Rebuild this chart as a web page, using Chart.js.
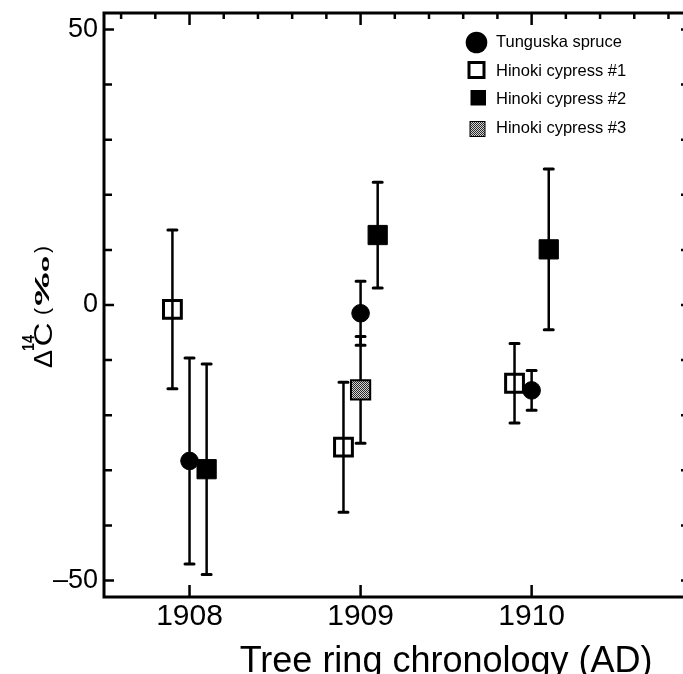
<!DOCTYPE html>
<html><head><meta charset="utf-8">
<script src="https://cdn.jsdelivr.net/npm/chart.js@4.4.0/dist/chart.umd.min.js"></script>
<style>
html,body{margin:0;padding:0;overflow:hidden;background:#fff;}
#wrap{position:relative;width:695px;height:674px;}
</style></head><body>
<div id="wrap"><canvas id="c" width="695" height="674" style="width:695px;height:674px"></canvas></div>
<script>
// ---- data ----
const seriesNames = ['Tunguska spruce','Hinoki cypress #1','Hinoki cypress #2','Hinoki cypress #3'];
const tunguskaX   = [1908.0, 1909.0, 1910.0];
const tunguskaY   = [-28.3, -1.5, -15.5];
const tunguskaErr = [18.7, 5.8, 3.6];
const hinoki1X    = [1907.9, 1908.9, 1909.9];
const hinoki1Y    = [-0.8, -25.8, -14.2];
const hinoki1Err  = [14.4, 11.8, 7.2];
const hinoki2X    = [1908.1, 1909.1, 1910.1];
const hinoki2Y    = [-29.8, 12.7, 10.1];
const hinoki2Err  = [19.1, 9.6, 14.6];
const hinoki3X    = [1909.0];
const hinoki3Y    = [-15.4];
const hinoki3Err  = [9.7];
// ---- ticks ----
const xMajorTicks = [1908, 1909, 1910];
const xMinorTicks = [1907.6,1907.8,1908.0,1908.2,1908.4,1908.6,1908.8,1909.0,1909.2,1909.4,1909.6,1909.8,1910.0,1910.2,1910.4,1910.6,1910.8];
const yMajorTicks = [-50, 0, 50];
const yMinorTicks = [-50,-40,-30,-20,-10,0,10,20,30,40,50];
const xTitle = 'Tree ring chronology (AD)';

const FONT = "'Liberation Sans', Arial, Helvetica, sans-serif";

function makePattern(){
  const c=document.createElement('canvas'); c.width=2; c.height=2;
  const g=c.getContext('2d');
  g.fillStyle='#d4d4d4'; g.fillRect(0,0,2,2);
  g.fillStyle='#2a2a2a'; g.fillRect(0,0,1,1); g.fillRect(1,1,1,1);
  return g.createPattern(c,'repeat');
}
const hatch = makePattern();

function pts(xs, ys){ return xs.map((x,i)=>({x:x, y:ys[i]})); }
function zeroPad(s){ s.paddingTop=0; s.paddingBottom=0; s.paddingLeft=0; s.paddingRight=0; }

const errorBars = {
  id:'errorBars',
  beforeDatasetsDraw(chart){
    const ctx=chart.ctx, ys=chart.scales.y;
    ctx.save();
    ctx.strokeStyle='#000';
    chart.data.datasets.forEach((ds,i)=>{
      const meta=chart.getDatasetMeta(i);
      ds.data.forEach((p,j)=>{
        const e=ds.errors[j];
        const px=meta.data[j].x;
        const yt=ys.getPixelForValue(p.y+e), yb=ys.getPixelForValue(p.y-e);
        ctx.lineWidth=2.5; ctx.lineCap='butt';
        ctx.beginPath(); ctx.moveTo(px,yt); ctx.lineTo(px,yb); ctx.stroke();
        ctx.lineWidth=3; ctx.lineCap='round';
        ctx.beginPath(); ctx.moveTo(px-4.5,yt); ctx.lineTo(px+4.5,yt);
        ctx.moveTo(px-4.5,yb); ctx.lineTo(px+4.5,yb); ctx.stroke();
      });
    });
    ctx.restore();
  }
};

const frame = {
  id:'frame',
  afterDraw(chart){
    const ctx=chart.ctx, a=chart.chartArea, xs=chart.scales.x, ys=chart.scales.y;
    ctx.save();
    ctx.strokeStyle='#000'; ctx.lineWidth=3; ctx.lineCap='square';
    ctx.strokeRect(a.left,a.top,a.right-a.left,a.bottom-a.top);
    ctx.lineWidth=2.5; ctx.lineCap='butt';
    ctx.beginPath();
    yMinorTicks.forEach(v=>{
      const y=ys.getPixelForValue(v);
      const L = yMajorTicks.includes(v)?10:8;
      ctx.moveTo(a.left,y); ctx.lineTo(a.left+L,y);
      ctx.moveTo(a.right,y); ctx.lineTo(a.right-8,y);
    });
    xMinorTicks.forEach(v=>{
      const x=xs.getPixelForValue(v);
      const maj = xMajorTicks.some(m=>Math.abs(m-v)<1e-6);
      ctx.moveTo(x,a.top); ctx.lineTo(x,a.top+(maj?12:6));
    });
    xMajorTicks.forEach(v=>{
      const x=xs.getPixelForValue(v);
      ctx.moveTo(x,a.bottom); ctx.lineTo(x,a.bottom-12);
    });
    ctx.stroke();

    // x-axis title
    ctx.fillStyle='#000';
    ctx.font='36px '+FONT;
    ctx.textAlign='center'; ctx.textBaseline='alphabetic';
    ctx.fillText(xTitle, xs.getPixelForValue((xMajorTicks[1]+xMajorTicks[2])/2), 672);

    // y-axis title, drawn piece by piece rotated
    function piece(text, font, yStart, len, baseX){
      ctx.save();
      ctx.font=font;
      const w=ctx.measureText(text).width;
      ctx.translate(baseX, yStart);
      ctx.rotate(-Math.PI/2);
      ctx.scale(len/w,1);
      ctx.textAlign='left'; ctx.textBaseline='alphabetic';
      ctx.fillText(text,0,0);
      ctx.restore();
    }
    piece('Δ', '25px '+FONT, 368, 18, 51.5);
    piece('14', 'bold 16px '+FONT, 351, 16, 34);
    piece('C', '25px '+FONT, 346.5, 24, 51.5);
    piece('(', '21px '+FONT, 315, 7, 48.5);
    piece('‰', 'bold 20px '+FONT, 306, 50, 49);
    piece(')', '21px '+FONT, 253, 7, 48.5);

    // legend
    const rows=[42,70.5,99,128];
    ctx.font='16.5px '+FONT; ctx.textAlign='left'; ctx.textBaseline='middle';
    seriesNames.forEach((n,i)=>{ ctx.fillText(n, 496, rows[i]+0.5); });
    ctx.fillStyle='#000';
    ctx.beginPath(); ctx.arc(476.5,42.5,10.8,0,Math.PI*2); ctx.fill();
    ctx.lineWidth=3; ctx.strokeRect(469,62.5,15,15);
    ctx.fillRect(470.5,90,15.5,15.5);
    ctx.fillStyle=hatch; ctx.fillRect(470,121.5,15,15);
    ctx.lineWidth=1; ctx.strokeRect(470,121.5,15,15);
    ctx.restore();
  }
};

new Chart(document.getElementById('c'), {
  type:'scatter',
  data:{ datasets:[
    {label:seriesNames[0], data:pts(tunguskaX,tunguskaY), errors:tunguskaErr,
     pointStyle:'circle', pointRadius:8.8, backgroundColor:'#000', borderColor:'#000', borderWidth:1},
    {label:seriesNames[1], data:pts(hinoki1X,hinoki1Y), errors:hinoki1Err,
     pointStyle:'rect', pointRadius:12.6, backgroundColor:'rgba(0,0,0,0)', borderColor:'#000', borderWidth:3},
    {label:seriesNames[2], data:pts(hinoki2X,hinoki2Y), errors:hinoki2Err,
     pointStyle:'rect', pointRadius:13.6, backgroundColor:'#000', borderColor:'#000', borderWidth:1},
    {label:seriesNames[3], data:pts(hinoki3X,hinoki3Y), errors:hinoki3Err,
     pointStyle:'rect', pointRadius:13.6, backgroundColor:hatch, borderColor:'#000', borderWidth:2}
  ]},
  options:{
    responsive:false, animation:false, events:[], devicePixelRatio:1,
    layout:{autoPadding:false, padding:{top:13,right:6,left:0,bottom:0}},
    plugins:{legend:{display:false}, tooltip:{enabled:false}},
    scales:{
      x:{type:'linear', min:1907.5, max:1910.92,
         afterBuildTicks:s=>{ s.ticks = xMajorTicks.map(v=>({value:v})); },
         afterFit:s=>{ s.height=77; zeroPad(s); },
         grid:{display:false, drawTicks:false}, border:{display:false},
         ticks:{font:{family:FONT,size:30}, color:'#000', padding:2, maxRotation:0, autoSkip:false,
                callback:v=>String(v)}},
      y:{type:'linear', min:-53, max:53,
         afterBuildTicks:s=>{ s.ticks = yMajorTicks.map(v=>({value:v})); },
         afterFit:s=>{ s.width=104; zeroPad(s); },
         grid:{display:false, drawTicks:false}, border:{display:false},
         ticks:{font:{family:FONT,size:27}, color:'#000', padding:6, autoSkip:false,
                callback:v=> v<0 ? '\u2013'+Math.abs(v) : String(v)}}
    }
  },
  plugins:[errorBars, frame]
});
</script>
</body></html>
